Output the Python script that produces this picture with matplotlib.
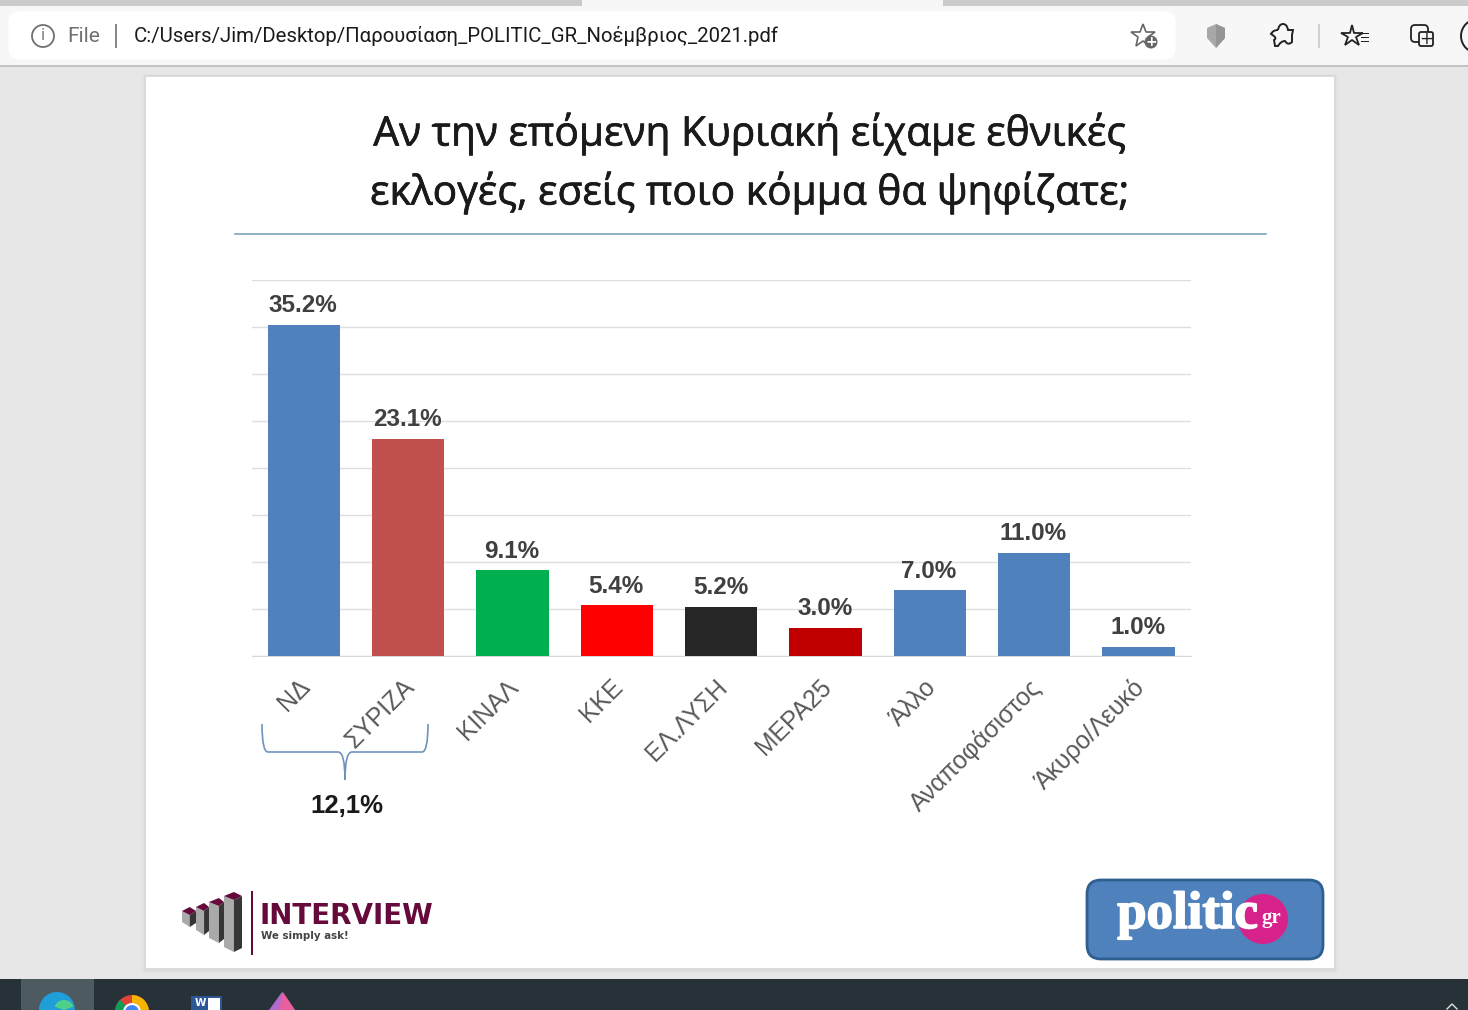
import matplotlib
matplotlib.use("Agg")
import matplotlib.pyplot as plt
import matplotlib.patheffects as pe
from matplotlib.patches import Rectangle, FancyBboxPatch, PathPatch, Polygon, Circle, Wedge
from matplotlib.path import Path
from matplotlib.transforms import ScaledTranslation

parties = ["ΝΔ", "ΣΥΡΙΖΑ", "ΚΙΝΑΛ", "ΚΚΕ", "ΕΛ.ΛΥΣΗ", "ΜΕΡΑ25", "Άλλο", "Αναποφάσιστος", "Άκυρο/Λευκό"]
votes = [35.2, 23.1, 9.1, 5.4, 5.2, 3.0, 7.0, 11.0, 1.0]
bar_colors = ["#4f81bd", "#c0504d", "#00b050", "#ff0000", "#262626", "#c00000", "#4f81bd", "#4f81bd", "#4f81bd"]
y_ticks = [0, 5, 10, 15, 20, 25, 30, 35, 40]

W, H = 1468, 1010

fig = plt.figure(figsize=(W / 100, H / 100), dpi=100, facecolor="#e7e7e7")

# overlay in pixel coordinates for the browser window and the slide
bg = fig.add_axes([0, 0, 1, 1], zorder=0)
bg.set_xlim(0, W)
bg.set_ylim(H, 0)
bg.axis("off")


def rect(x, y, w, h, color, z=1):
    bg.add_patch(Rectangle((x, y), w, h, facecolor=color, edgecolor="none", zorder=z))


# tab strip and toolbar
rect(0, 0, W, 6, "#cbcbcb")
rect(582, 0, 361, 7, "#f7f7f7", 2)
rect(0, 6, W, 59, "#f7f7f7")
rect(0, 65, W, 2, "#c4c4c4")
bg.add_patch(FancyBboxPatch((14, 17), 1156, 37, boxstyle="round,pad=0,rounding_size=5",
                            facecolor="white", edgecolor="white", linewidth=8, zorder=2))
bg.add_patch(Circle((43, 36), 11, facecolor="none", edgecolor="#707070", linewidth=1.3, zorder=3))
bg.text(43, 36.5, "i", fontsize=12, color="#707070", ha="center", va="center", family="Open Sans", zorder=3)
bg.text(67, 36, "File", fontsize=15, color="#707070", ha="left", va="center", family="Roboto", zorder=3)
rect(115, 24, 1.5, 24, "#8a8a8a", 3)
bg.text(134, 36, "C:/Users/Jim/Desktop/Παρουσίαση_POLITIC_GR_Νοέμβριος_2021.pdf", fontsize=14.65,
        color="#1a1a1a", ha="left", va="center", family="Roboto", zorder=3)

# toolbar icons
bg.plot([1143], [36], marker="*", markersize=18, markerfacecolor="none", markeredgecolor="#666666",
        markeredgewidth=1.2, zorder=3)
bg.add_patch(Circle((1151, 42), 6.5, facecolor="#666666", edgecolor="none", zorder=4))
bg.text(1151, 42, "+", fontsize=10, color="white", ha="center", va="center", weight="bold", zorder=5)
bg.add_patch(Polygon([(1207, 28), (1216, 24), (1225, 28), (1225, 38), (1216, 48), (1207, 38)],
                     facecolor="#a8a8a8", edgecolor="none", zorder=3))
bg.add_patch(Polygon([(1216, 24), (1225, 28), (1225, 38), (1216, 48)], facecolor="#959595",
                     edgecolor="none", zorder=4))
puzzle = Path([(1278, 30), (1279, 24), (1283, 24), (1287, 24), (1288, 30), (1293, 30), (1292, 35),
               (1292, 42), (1288, 46), (1285, 41), (1281, 41), (1278, 46), (1275, 46), (1274, 40),
               (1278, 38), (1271, 34), (1273, 30), (1278, 30)],
              [Path.MOVETO] + [Path.CURVE3] * 4 + [Path.LINETO] * 2 + [Path.LINETO] + [Path.CURVE3] * 4
              + [Path.LINETO] * 2 + [Path.CURVE3] * 4)
bg.add_patch(PathPatch(puzzle, facecolor="none", edgecolor="#222222", linewidth=1.4, zorder=3))
rect(1318, 24, 1.5, 24, "#d0d0d0", 3)
bg.plot([1352], [36], marker="*", markersize=16, markerfacecolor="none", markeredgecolor="#222222",
        markeredgewidth=1.3, zorder=3)
for yy in (33, 37, 41):
    rect(1361, yy, 7.5, 1.3, "#222222", 4)
bg.add_patch(FancyBboxPatch((1411, 25), 17, 17, boxstyle="round,pad=0,rounding_size=4",
                            facecolor="none", edgecolor="#222222", linewidth=1.3, zorder=3))
bg.add_patch(FancyBboxPatch((1419, 32), 14, 14, boxstyle="round,pad=0,rounding_size=2",
                            facecolor="#f7f7f7", edgecolor="#222222", linewidth=1.3, zorder=4))
bg.text(1426, 39, "+", fontsize=12, color="#222222", ha="center", va="center", zorder=5)
bg.add_patch(Circle((1478, 36), 17, facecolor="none", edgecolor="#222222", linewidth=1.4, zorder=3))

# slide with soft shadow
rect(142, 74, 1196, 899, "#e2e2e2", 1)
rect(144, 75, 1192, 896, "#dadada", 1)
rect(146, 77, 1188, 891, "white", 2)

# taskbar
rect(0, 979, W, 31, "#263238", 5)
rect(21, 979, 73, 31, "#4d5a60", 5)
bg.add_patch(Wedge((57, 1010), 18, 180, 360, facecolor="#1f9ed8", zorder=6))
bg.add_patch(Wedge((64, 1010), 10, 200, 340, facecolor="#4fd08a", zorder=7))
bg.add_patch(Circle((132, 1012), 17, facecolor="#db4437", zorder=6))
bg.add_patch(Wedge((132, 1012), 17, 180, 225, facecolor="#0f9d58", zorder=7))
bg.add_patch(Wedge((132, 1012), 17, 270, 360, facecolor="#f4b400", zorder=7))
bg.add_patch(Circle((132, 1012), 8, facecolor="#4285f4", edgecolor="white", linewidth=1.5, zorder=8))
rect(191, 996, 31, 14, "#2b5797", 6)
rect(208, 998, 12, 12, "white", 6)
bg.text(200, 1003.5, "W", fontsize=7.5, color="white", ha="center", va="center", weight="bold", zorder=7)
bg.add_patch(Polygon([(269, 1010), (282, 992), (295, 1010)], facecolor="#b06bcc", edgecolor="none", zorder=6))
bg.add_patch(Polygon([(279, 1010), (283, 992), (295, 1010)], facecolor="#ea5f9e", edgecolor="none", zorder=7))
bg.plot([1447, 1452, 1457], [1009, 1004, 1009], color="#e0e0e0", linewidth=1, zorder=6)

# slide title
bg.text(750, 134, "Αν την επόμενη Κυριακή είχαμε εθνικές", fontsize=29.3, color="#1a1a1a",
        ha="center", va="center", family="Open Sans", zorder=3,
        path_effects=[pe.withStroke(linewidth=0.5, foreground="#1a1a1a")])
bg.text(750, 193, "εκλογές, εσείς ποιο κόμμα θα ψηφίζατε;", fontsize=29.3, color="#1a1a1a",
        ha="center", va="center", family="Open Sans", zorder=3,
        path_effects=[pe.withStroke(linewidth=0.5, foreground="#1a1a1a")])
bg.plot([235, 1266], [233.5, 233.5], color="#6f9bb5", linewidth=1.1, zorder=3)

# the bar chart itself
ax = fig.add_axes([251.6 / W, (H - 656) / H, 939 / W, 376 / H], zorder=2)
ax.patch.set_alpha(0)
positions = list(range(len(parties)))
bars = ax.bar(positions, votes, width=0.695, color=bar_colors, zorder=3)
ax.set_xlim(-0.5, len(parties) - 0.5)
ax.set_ylim(0, 40)
ax.set_yticks(y_ticks)
ax.set_yticklabels([])
ax.tick_params(axis="both", length=0)
ax.grid(axis="y", color="#dedede", linewidth=1)
ax.set_axisbelow(True)
for side in ax.spines:
    ax.spines[side].set_visible(False)
ax.spines["bottom"].set_visible(True)
ax.spines["bottom"].set_color("#d9d9d9")

for bar, value in zip(bars, votes):
    ax.annotate(f"{value:.1f}%", (bar.get_x() + bar.get_width() / 2, value), xytext=(-0.5, 5.5),
                textcoords="offset points", ha="center", va="bottom", fontsize=17.5, weight="bold",
                color="#404040", family="Liberation Sans")

ax.set_xticks(positions)
ax.set_xticklabels(parties, rotation=45, ha="right", rotation_mode="anchor", fontsize=17.8,
                   color="#595959", family="Liberation Sans")
ax.tick_params(axis="x", pad=13.5)
for label in ax.get_xticklabels():
    label.set_transform(label.get_transform() + ScaledTranslation(-6 / 100, 0, fig.dpi_scale_trans))

# brace under the first two parties
brace = Path([(262, 724), (262, 752), (268, 752), (338, 752), (345, 752), (345, 780),
              (345, 752), (352, 752), (422, 752), (428, 752), (428, 724)],
             [Path.MOVETO, Path.CURVE3, Path.CURVE3, Path.LINETO, Path.CURVE3, Path.CURVE3,
              Path.CURVE3, Path.CURVE3, Path.LINETO, Path.CURVE3, Path.CURVE3])
bg.add_patch(PathPatch(brace, facecolor="none", edgecolor="#6f93bb", linewidth=1.2, zorder=3))
bg.text(347, 806, "12,1%", fontsize=18.5, weight="bold", color="#1a1a1a", ha="center", va="center",
        family="Liberation Sans", zorder=3)

# INTERVIEW logo
maroon = "#650a3a"
for x0, x1, top, bot, split in [(182, 196, 907, 927, 0.55), (196, 209, 903, 935, 0.62),
                                (209, 224, 898, 943, 0.66), (224, 242, 892, 952, 0.55)]:
    xm = x0 + (x1 - x0) * split
    bg.add_patch(Polygon([(x0, top + 4), (xm, top + 8), (xm, bot), (x0, bot - 5)],
                         facecolor="#aaaaaa", edgecolor="none", zorder=3))
    bg.add_patch(Polygon([(xm, top + 8), (x1, top + 4), (x1, bot - 4), (xm, bot)],
                         facecolor="#363636", edgecolor="none", zorder=3))
    bg.add_patch(Polygon([(x0, top + 4), (xm, top), (x1, top + 4), (xm, top + 8)],
                         facecolor=maroon, edgecolor="none", zorder=4))
rect(250.5, 891, 2.2, 64, maroon, 3)
bg.text(259, 915.5, "INTERVIEW", fontsize=20, weight="bold", color=maroon, ha="left", va="center",
        family="DejaVu Sans", zorder=3)
bg.text(261, 936, "We simply ask!", fontsize=7.4, weight="bold", color="#444444", ha="left", va="center",
        family="DejaVu Sans", zorder=3)

# politic.gr logo
bg.add_patch(FancyBboxPatch((1087, 880), 236, 79, boxstyle="round,pad=0,rounding_size=14",
                            facecolor="#4f81bd", edgecolor="#2f5f8f", linewidth=2, zorder=3))
bg.add_patch(Circle((1263, 919), 25, facecolor="#d6228a", edgecolor="none", zorder=4))
bg.text(1187.5, 915, "politic", fontsize=38, weight="bold", color="white", ha="center", va="center",
        family="Liberation Serif", zorder=5,
        path_effects=[pe.withStroke(linewidth=1.2, foreground="white")])
bg.text(1271, 918, "gr", fontsize=15, weight="bold", color="white", ha="center", va="center",
        family="Liberation Serif", zorder=5)

fig.savefig("out.png", dpi=100, facecolor=fig.get_facecolor())
